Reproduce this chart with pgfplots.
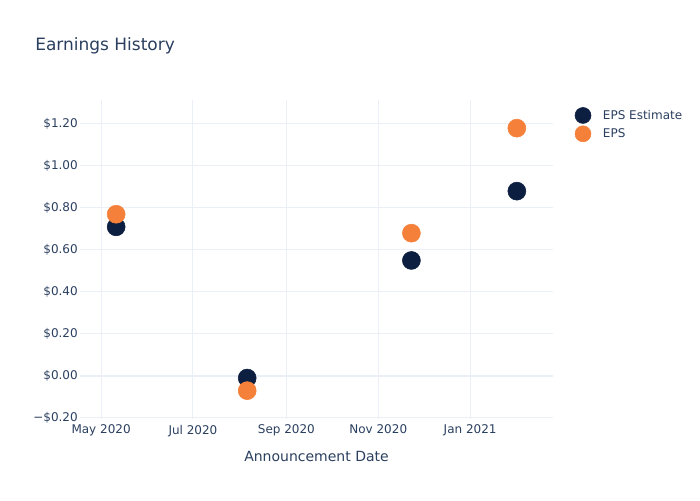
\documentclass[border=0pt]{standalone}
\usepackage{pgfplots}
\pgfplotsset{compat=1.18}
\usepackage{fontspec}
\setmainfont{DejaVu Sans}
\definecolor{txt}{RGB}{42,63,95}
\definecolor{grd}{RGB}{235,240,248}
\definecolor{est}{RGB}{13,31,64}
\definecolor{eps}{RGB}{245,128,58}
\begin{document}
\begin{tikzpicture}[x=0.75pt,y=0.75pt]
\path[use as bounding box] (0,0) rectangle (700,500);
\node[anchor=west,font=\fontsize{12.75pt}{14pt}\selectfont,text=txt,inner sep=0pt] at (35,454) {Earnings History};
\begin{axis}[
  at={(60pt,60.75pt)}, anchor=south west,
  scale only axis, width=354.75pt, height=239.25pt,
  xmin=-14, xmax=300, ymin=-0.205, ymax=1.314,
  axis line style={draw=none}, tick style={draw=none},
  grid=major, grid style={grd, line width=0.75pt},
  xtick={0,61,123,184,245},
  xticklabels={May 2020,Jul 2020,Sep 2020,Nov 2020,Jan 2021},
  ytick={-0.2,0,0.2,0.4,0.6,0.8,1.0,1.2},
  yticklabels={−\$0.20,\$0.00,\$0.20,\$0.40,\$0.60,\$0.80,\$1.00,\$1.20},
  ticklabel style={font=\fontsize{9pt}{10pt}\selectfont, text=txt},
  yticklabel style={inner sep=1.5pt},
  xticklabel style={inner sep=1pt, yshift=-3.25pt},
  xlabel={Announcement Date},
  xlabel style={font=\fontsize{10.5pt}{12pt}\selectfont, text=txt, yshift=-6.75pt},
  legend style={at={(1.0375,0.9865)}, anchor=north west, draw=none, fill=none,
    font=\fontsize{9pt}{10pt}\selectfont, text=txt, row sep=1.5pt,
    cells={anchor=west}},
  legend image code/.code={\draw[#1,mark size=6pt] plot coordinates {(0pt,0pt)}; \path (12.75pt,0pt);},
  legend cell align=left,
  clip=false,
]
\draw[grd, line width=1.5pt] (axis cs:-14,0) -- (axis cs:300,0);
\addplot[only marks, mark=*, mark size=6.75pt, color=est, mark options={draw=est, fill=est}]
  coordinates {(10,0.71) (97,-0.01) (206,0.55) (276,0.88)};
\addlegendentry{EPS Estimate}
\addplot[only marks, mark=*, mark size=6.75pt, color=eps, mark options={draw=eps, fill=eps}]
  coordinates {(10,0.77) (97,-0.07) (206,0.68) (276,1.18)};
\addlegendentry{EPS}
\end{axis}
\end{tikzpicture}
\end{document}
